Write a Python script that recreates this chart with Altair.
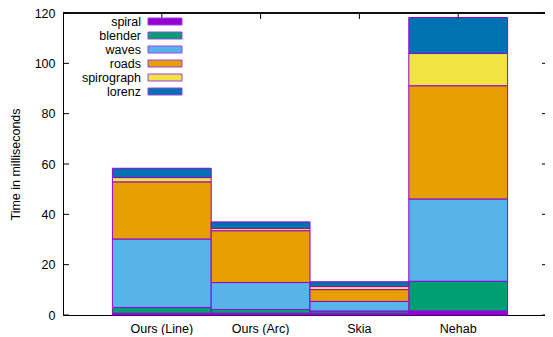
import altair as alt
import pandas as pd

categories = ["Ours (Line)", "Ours (Arc)", "Skia", "Nehab"]
series = ["spiral", "blender", "waves", "roads", "spirograph", "lorenz"]
colors = ["#9400d3", "#009e73", "#56b4e9", "#e69f00", "#f0e442", "#0072b2"]

spiral = [0.7, 0.7, 0.7, 1.6]
blender = [2.3, 1.5, 0.9, 11.8]
waves = [27.2, 10.7, 3.8, 32.7]
roads = [22.7, 20.6, 4.7, 45.0]
spirograph = [1.7, 0.9, 1.2, 12.8]
lorenz = [3.7, 2.6, 1.9, 14.3]

y_ticks = [0, 20, 40, 60, 80, 100, 120]

values = {"spiral": spiral, "blender": blender, "waves": waves,
          "roads": roads, "spirograph": spirograph, "lorenz": lorenz}
rows = []
for si, s in enumerate(series):
    for ci, c in enumerate(categories):
        rows.append({"cat": c, "series": s, "order": si, "value": values[s][ci]})
df = pd.DataFrame(rows)

W = 482
W_RANGE = 494
H = 302
FONT = "Liberation Sans"
FS = 12.5

xscale = alt.Scale(domain=categories, range=[0, W_RANGE], paddingInner=0, paddingOuter=0.5)
yscale = alt.Scale(domain=[0, 120], nice=False)

legend_opts = dict(orient="none", legendX=63, legendY=1, title=None,
                   symbolType="M2.07,-0.5H6.93V0.5H2.07Z", symbolSize=196,
                   symbolStrokeColor="#a040e8", symbolStrokeWidth=1,
                   symbolOpacity=1, labelAlign="right", labelOffset=0,
                   padding=0, labelFont=FONT, labelFontSize=FS, labelColor="black")
try:
    legend = alt.Legend(rowPadding=-1.3, **legend_opts)
except Exception:
    legend = alt.Legend(rowPadding=0, **legend_opts)

bars = alt.Chart(df).mark_bar(stroke="#9400d3", strokeWidth=1, opacity=1).encode(
    x=alt.X("cat:N", scale=xscale, sort=categories,
            axis=alt.Axis(title=None, labelAngle=0, ticks=False, tickSize=0,
                          labelPadding=7, domainColor="black", domainWidth=1,
                          labelFont=FONT, labelFontSize=FS, labelColor="black")),
    y=alt.Y("value:Q", scale=yscale, stack="zero",
            axis=alt.Axis(title="Time in milliseconds", values=y_ticks, ticks=False, tickSize=0,
                          labelPadding=8, grid=False, domainColor="black", domainWidth=1,
                          labelFont=FONT, labelFontSize=FS, labelColor="black",
                          titleFont=FONT, titleFontSize=FS, titleFontWeight="normal",
                          titleColor="black", titlePadding=12)),
    color=alt.Color("series:N", scale=alt.Scale(domain=series, range=colors), legend=legend),
    order=alt.Order("order:Q", sort="ascending"),
)

tdf = pd.DataFrame({"t": y_ticks})
left_ticks = alt.Chart(tdf).mark_rule(color="black", strokeWidth=1).encode(
    y=alt.Y("t:Q", scale=yscale), x=alt.value(0), x2=alt.value(6))
right_ticks = alt.Chart(tdf).mark_rule(color="black", strokeWidth=1).encode(
    y=alt.Y("t:Q", scale=yscale), x=alt.value(W - 3), x2=alt.value(W))

cdf = pd.DataFrame({"cat": categories})
top_ticks = alt.Chart(cdf).mark_rule(color="black", strokeWidth=1).encode(
    x=alt.X("cat:N", scale=xscale, sort=categories), y=alt.value(0), y2=alt.value(6))
top_border = alt.Chart(cdf).mark_rule(color="black", strokeWidth=1).encode(
    x=alt.value(0), x2=alt.value(W), y=alt.value(0))

chart = alt.layer(bars, left_ticks, right_ticks, top_ticks, top_border).properties(
    width=W, height=H,
    padding={"left": 55, "top": 5, "right": 0, "bottom": 20},
    autosize=alt.AutoSizeParams(type="none"),
).configure_view(stroke=None)

chart.save("out.html", embed_options={"renderer": "svg", "actions": False})
